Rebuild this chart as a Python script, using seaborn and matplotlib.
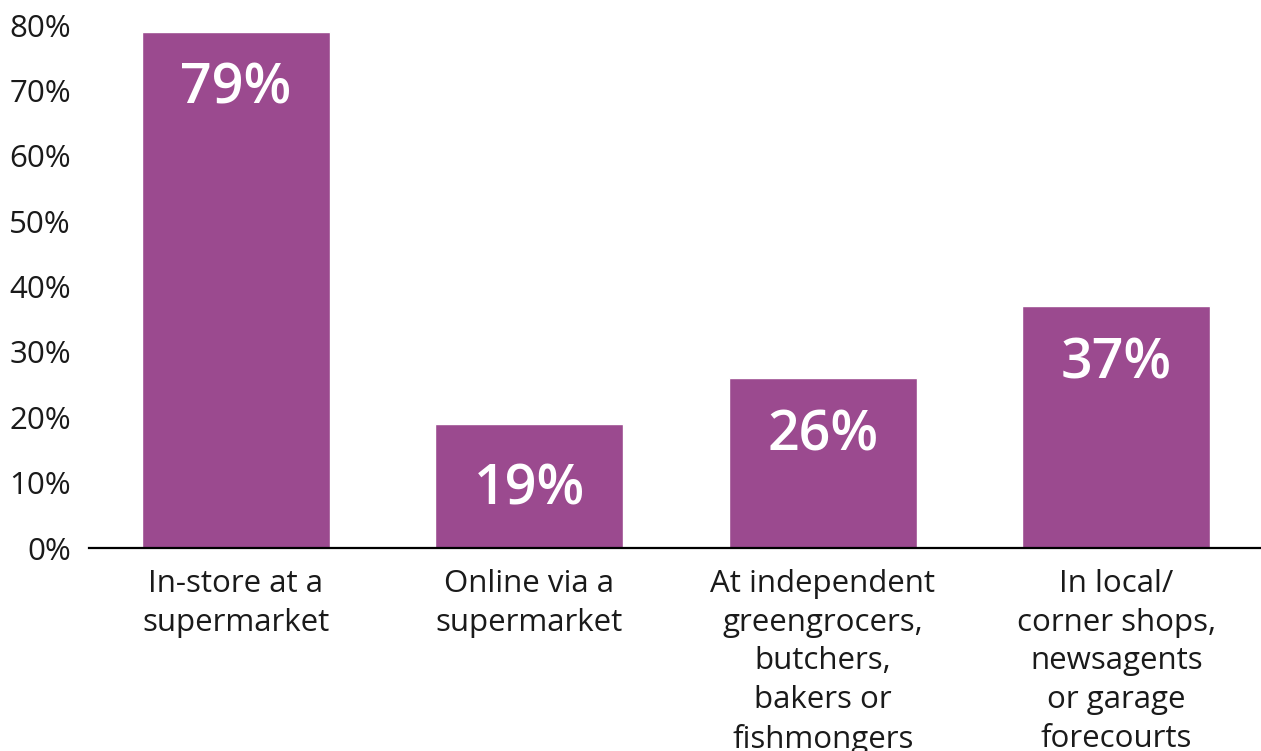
import matplotlib
matplotlib.use("Agg")
import matplotlib.pyplot as plt
import seaborn as sns
import pandas as pd

# Where people buy groceries (share of respondents, %)
categories = [
    "In-store at a\nsupermarket",
    "Online via a\nsupermarket",
    "At independent\ngreengrocers,\nbutchers,\nbakers or\nfishmongers",
    "In local/\ncorner shops,\nnewsagents\nor garage\nforecourts",
]
values = [79, 19, 26, 37]
y_ticks = [0, 10, 20, 30, 40, 50, 60, 70, 80]
y_tick_labels = [f"{t}%" for t in y_ticks]

BAR_COLOR = "#9B4A8F"
TEXT_COLOR = "#1a1a1a"

sns.set_theme(style="white")
plt.rcParams["font.family"] = ["Open Sans", "DejaVu Sans"]

df = pd.DataFrame({"channel": categories, "share": values})

fig = plt.figure(figsize=(12.61, 7.51), dpi=100)
ax = fig.add_axes([89 / 1261, 203 / 751, 1174 / 1261, 523 / 751])

sns.barplot(data=df, x="channel", y="share", color=BAR_COLOR, width=0.64,
            saturation=1, ax=ax)

ax.set_xlim(-0.5, 3.5)
ax.set_ylim(0, 80)
ax.set_yticks(y_ticks)
ax.set_yticklabels(y_tick_labels)
ax.set_xlabel("")
ax.set_ylabel("")

for side in ["top", "right", "left"]:
    ax.spines[side].set_visible(False)
ax.spines["bottom"].set_color("black")
ax.spines["bottom"].set_linewidth(1.6)
ax.spines["bottom"].set_zorder(5)

ax.tick_params(axis="y", length=0, pad=13, labelsize=22.5, labelcolor=TEXT_COLOR)
ax.tick_params(axis="x", length=0, pad=15, labelsize=22.5, labelcolor=TEXT_COLOR)
for lbl in ax.get_xticklabels():
    lbl.set_linespacing(1.38)
    lbl.set_verticalalignment("top")

# Value labels sit just inside the top of each bar; short bars get them centred
for i, v in enumerate(values):
    if v < 20:
        ax.annotate(f"{v}%", xy=(i, v / 2), xytext=(0, -3), textcoords="offset points",
                    ha="center", va="center", color="white", fontsize=40,
                    fontweight="semibold")
    else:
        ax.annotate(f"{v}%", xy=(i, v), xytext=(0, -42), textcoords="offset points",
                    ha="center", va="center", color="white", fontsize=40,
                    fontweight="semibold")

fig.savefig("out.png", dpi=100, facecolor="white")
